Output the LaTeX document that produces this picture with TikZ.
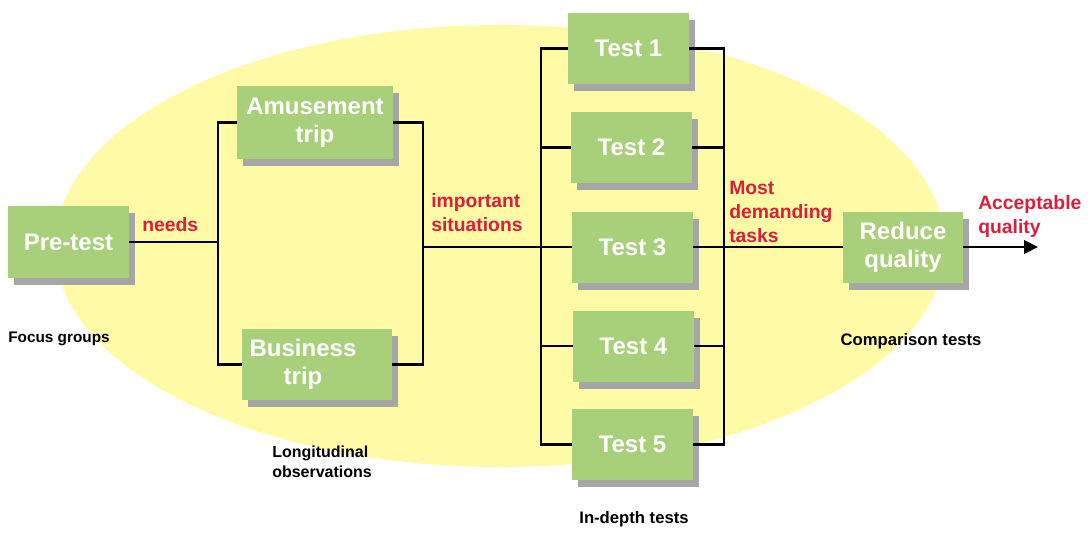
\documentclass[tikz,border=0pt]{standalone}
\usepackage{fontspec}
\setmainfont{Liberation Sans}
\usetikzlibrary{shadows,arrows.meta}
\definecolor{boxgreen}{RGB}{168,207,122}
\definecolor{shadowgray}{RGB}{166,166,166}
\definecolor{ellyellow}{RGB}{255,250,165}
\definecolor{labelred}{RGB}{220,30,60}
\tikzset{
  box/.style={rectangle, fill=boxgreen, inner sep=0pt, text=white, align=center,
    font=\fontsize{18}{21}\selectfont\bfseries,
    general shadow={fill=shadowgray, shadow xshift=4.5pt, shadow yshift=-5.5pt}},
  conn/.style={line width=2.2pt, black},
  redlabel/.style={text=labelred, font=\fontsize{14.5}{18}\selectfont\bfseries, align=left, inner sep=0pt},
  blacklabel/.style={text=black, font=\fontsize{11.5}{15}\selectfont\bfseries, align=left, inner sep=0pt}
}
\begin{document}
\begin{tikzpicture}[x=0.75pt,y=-0.75pt]
\useasboundingbox (0,0) rectangle (1091,532);
% background ellipse
\fill[ellyellow] (500,246) ellipse [x radius=445, y radius=221];

% boxes
\node[box, minimum width=90.75pt, minimum height=54pt] (pre) at (68.5,242) {Pre-test};
\node[box, minimum width=117pt, minimum height=54.75pt] (amuse) at (315,122.5) {Amusement\\trip};
\node[box, minimum width=112.5pt, minimum height=53.25pt] (business) at (317,364.5) {\begin{tabular}{@{}c@{}}Business\\trip\end{tabular}\hspace*{21pt}};
\node[box, minimum width=90.75pt, minimum height=53.25pt] (test1) at (628.5,48.5) {Test 1};
\node[box, minimum width=90.75pt, minimum height=53.25pt] (test2) at (631.5,147.5) {Test 2};
\node[box, minimum width=90.75pt, minimum height=53.25pt] (test3) at (632.5,247) {Test 3};
\node[box, minimum width=90.75pt, minimum height=53.25pt] (test4) at (633.5,346) {Test 4};
\node[box, minimum width=90.75pt, minimum height=53.25pt] (test5) at (632.5,444.5) {Test 5};
\node[box, minimum width=90pt, minimum height=53.25pt] (reduce) at (903,247) {Reduce\\quality};

% junction coordinates
\coordinate (jL) at (218,242);
\coordinate (jM) at (423,247);
\coordinate (tL) at (541,247);
\coordinate (tR) at (724,247);
\coordinate (out) at (1038,247);

% connectors
\draw[conn] (pre.east) -- (pre.east -| jL);
\draw[conn] (amuse.west) -| (jL) |- (business.west);
\draw[conn] (amuse.east) -| (jM) |- (business.east);
\draw[conn] (jM) -- (test3.west);
\draw[conn] (test1.west) -| (tL) |- (test5.west);
\draw[conn] (test2.west) -- (test2.west -| tL);
\draw[conn] (test4.west) -- (test4.west -| tL);
\draw[conn] (test1.east) -| (tR) |- (test5.east);
\draw[conn] (test2.east) -- (test2.east -| tR);
\draw[conn] (test4.east) -- (test4.east -| tR);
\draw[conn] (test3.east) -- (reduce.west);
\draw[conn, -{Triangle[length=10.5pt,width=10pt]}] (reduce.east) -- (out);

% red labels
\node[redlabel, anchor=west] (lneeds) at (142,225) {needs};
\node[redlabel, anchor=west] (limp) at (431,213) {important\\situations};
\node[redlabel, anchor=west] (lmost) at (729,212) {Most\\demanding\\tasks};
\node[redlabel, anchor=west] (lacc) at (978,216) {Acceptable\\quality};

% black labels
\node[blacklabel] (lfocus) at (59,339) {Focus groups};
\node[blacklabel, font=\fontsize{12}{15}\selectfont\bfseries, anchor=west] (llong) at (272,462) {Longitudinal\\observations};
\node[blacklabel, font=\fontsize{12.5}{15}\selectfont\bfseries] (lindepth) at (634,519) {In-depth tests};
\node[blacklabel, font=\fontsize{12.5}{15}\selectfont\bfseries] (lcomp) at (911,341) {Comparison tests};
\end{tikzpicture}
\end{document}
